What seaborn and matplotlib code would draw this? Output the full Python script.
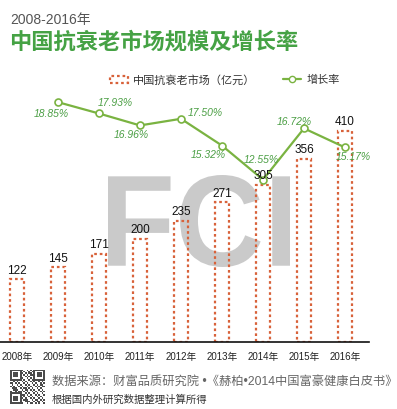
import numpy as np
import matplotlib
matplotlib.use("Agg")
import matplotlib.pyplot as plt
import seaborn as sns
from matplotlib.patches import Patch, PathPatch
from matplotlib.lines import Line2D
from matplotlib.textpath import TextPath
from matplotlib.font_manager import FontProperties
from matplotlib.transforms import Affine2D, IdentityTransform

# data
years = ["2008年", "2009年", "2010年", "2011年", "2012年", "2013年", "2014年", "2015年", "2016年"]
market = [122, 145, 171, 200, 235, 271, 305, 356, 410]
rate_years = ["2009年", "2010年", "2011年", "2012年", "2013年", "2014年", "2015年", "2016年"]
rates = [18.85, 17.93, 16.96, 17.50, 15.32, 12.55, 16.72, 15.17]
rate_labels = ["18.85%", "17.93%", "16.96%", "17.50%", "15.32%", "12.55%", "16.72%", "15.17%"]
# label offsets (points) around each growth point
rate_offsets = [(-4.5, -8.6), (11.5, 7.2), (-6.5, -7.2), (17.3, 4.3), (-10, -6.5), (-1, 14.5), (-7.2, 4.3), (5.8, -7.2)]

sns.set_style("white")
plt.rcParams['font.family'] = ['Liberation Sans', 'Noto Sans CJK SC', 'DejaVu Sans']

bar_col = "#d8623a"
line_col = "#7ab341"
txt_green = "#4c9f45"

W, H = 397, 409
fig = plt.figure(figsize=(W / 100, H / 100), dpi=100)
ax = fig.add_axes([0, 1 - 342 / H, 369 / W, (342 - 75) / H])
ax.patch.set_alpha(0)

# watermark
tp = TextPath((0, 0), "FCI", size=100, prop=FontProperties(family='Liberation Sans', weight='bold'))
bb = tp.get_extents()
tr = Affine2D().translate(-bb.x0, -bb.y0).scale(182 / bb.width, 92 / bb.height).translate(108, H - 267)
ax.add_artist(PathPatch(tp, transform=tr + IdentityTransform(), facecolor="#cacaca", edgecolor="none", zorder=0))

# bars
sns.barplot(x=years, y=market, ax=ax, fill=False, color=bar_col, width=0.34,
            linewidth=1.6, linestyle=(0, (1.2, 1.3)), zorder=2)

ax.set_xlim(-17 / 41, 352 / 41)
ax.set_ylim(0, 518)
ax.set_yticks([])
ax.set_xlabel("")
ax.set_ylabel("")
for s in ["top", "right", "left"]:
    ax.spines[s].set_visible(False)
ax.spines["bottom"].set_color("#111111")
ax.spines["bottom"].set_linewidth(1.2)
ax.spines["bottom"].set_zorder(4)
ax.tick_params(axis='x', length=0, pad=7, labelsize=7, labelcolor="#222222")

# growth rate line
ax2 = ax.twinx()
xpos = [years.index(y) for y in rate_years]
sns.lineplot(x=xpos, y=rates, ax=ax2, color=line_col, linewidth=1.6, marker='o',
             markersize=5, markerfacecolor="white", markeredgecolor=line_col, markeredgewidth=1.2)
for x, v, lab, off in zip(xpos, rates, rate_labels, rate_offsets):
    ax2.annotate(lab, (x, v), xytext=off, textcoords='offset points', ha='center', va='center',
                 fontsize=7.5, style='italic', color=txt_green)
ax2.set_ylim(-0.65, 21.06)
ax2.set_xlim(ax.get_xlim())
ax2.set_yticks([])
for s in ["top", "right", "left", "bottom"]:
    ax2.spines[s].set_visible(False)

# bar value labels, drawn above the line
for i, v in enumerate(market):
    ax2.text(i, v + 5, str(v), transform=ax.transData, ha='center', va='bottom',
             fontsize=8.5, color="#111111", zorder=5)

# titles
fig.text(10 / W, 1 - 20 / H, "2008-2016年", fontsize=10, color="#555555", va='center', ha='left')
fig.text(9 / W, 1 - 43 / H, "中国抗衰老市场规模及增长率", fontsize=16, fontweight='bold',
         color="#45a244", va='center', ha='left')

# legend
handles = [Patch(facecolor='none', edgecolor=bar_col, linestyle=(0, (1.2, 1.3)), linewidth=1.6),
           Line2D([0], [0], color=line_col, lw=1.6, marker='o', markersize=4.5,
                  markerfacecolor='white', markeredgecolor=line_col)]
fig.legend(handles, ["中国抗衰老市场（亿元）", "增长率"], loc='center', ncol=2, frameon=False,
           bbox_to_anchor=(225 / W, 1 - 80 / H), fontsize=8, columnspacing=2.5,
           handlelength=1.6, handletextpad=0.5, labelcolor="#333333")

# footer: QR-like block
qax = fig.add_axes([10 / W, 1 - 405 / H, 35 / W, 36 / H])
qr = np.zeros((21, 21))
for i in range(21):
    for j in range(21):
        qr[i, j] = 1 if ((i * 7 + j * 3) % 5 < 2 or (i * j) % 7 == 1) else 0
for (r0, c0) in [(0, 0), (0, 14), (14, 0)]:
    qr[r0:r0 + 7, c0:c0 + 7] = 1
    qr[r0 + 1:r0 + 6, c0 + 1:c0 + 6] = 0
    qr[r0 + 2:r0 + 5, c0 + 2:c0 + 5] = 1
qax.imshow(qr, cmap='Greys', vmin=0, vmax=1.3, interpolation='nearest')
qax.axis('off')

fig.text(52 / W, 1 - 382 / H, "数据来源：财富品质研究院 •《赫柏•2014中国富豪健康白皮书》",
         fontsize=8.8, color="#666666", va='center', ha='left')
fig.text(52 / W, 1 - 400 / H, "根据国内外研究数据整理计算所得", fontsize=7.5, color="#333333",
         va='center', ha='left')

fig.savefig("out.png", dpi=100)
